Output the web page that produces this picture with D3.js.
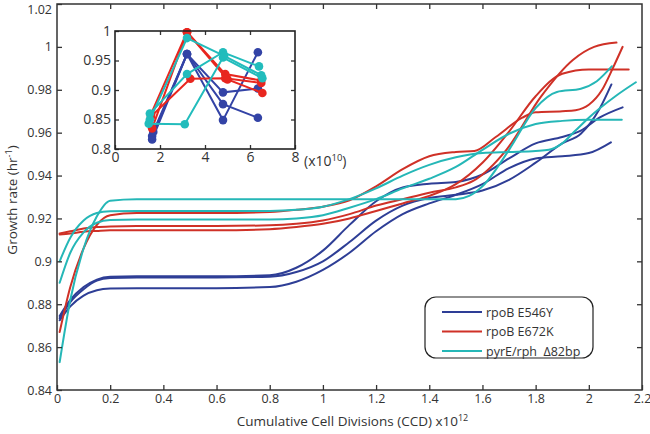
<!DOCTYPE html>
<html><head><meta charset="utf-8">
<script src="https://cdn.jsdelivr.net/npm/d3@7"></script>
<style>
html,body{margin:0;padding:0;background:#fff;}
svg text{font-family:"Open Sans","Noto Sans",sans-serif;fill:#333;}
</style></head>
<body><svg id="c" width="650" height="434"></svg>
<script>
// ---------- data ----------
const xTicks = [0,0.2,0.4,0.6,0.8,1,1.2,1.4,1.6,1.8,2,2.2];
const yTicks = [0.84,0.86,0.88,0.9,0.92,0.94,0.96,0.98,1,1.02];
const seriesNames = ["rpoB E546Y","rpoB E672K","pyrE/rph  \u039482bp"];
const seriesColors = ["#2e3e96","#cf3127","#25b7b7"];
const insetColors = ["#3343a6","#e8261f","#22bcbc"];

// main curves: [CCD x10^12, growth rate]
const blue1 = [[0.01,.8745],[0.05,.882],[0.1,.888],[0.15,.8915],[0.2,.8928],[0.3,.893],[0.6,.893],[0.8,.8935],[0.9,.897],[1.0,.905],[1.1,.917],[1.2,.928],[1.3,.9345],[1.4,.9362],[1.5,.937],[1.6,.9405],[1.7,.948],[1.8,.955],[1.9,.958],[1.97,.961],[2.04,.967],[2.127,.9718]];
const blue2 = [[0.01,.8735],[0.05,.881],[0.1,.887],[0.15,.891],[0.2,.8922],[0.3,.8925],[0.6,.8925],[0.8,.8928],[0.9,.895],[1.0,.9],[1.1,.909],[1.2,.919],[1.3,.926],[1.4,.9295],[1.5,.931],[1.6,.933],[1.7,.938],[1.8,.946],[1.9,.955],[1.97,.9595],[2.04,.971],[2.085,.9825]];
const blue3 = [[0.01,.8725],[0.05,.879],[0.1,.884],[0.15,.8865],[0.2,.8873],[0.3,.8875],[0.6,.8875],[0.8,.888],[0.9,.8905],[1.0,.896],[1.1,.904],[1.2,.914],[1.3,.922],[1.4,.927],[1.5,.931],[1.6,.936],[1.7,.9435],[1.8,.948],[1.9,.949],[2.0,.9505],[2.083,.9555]];
const red1 = [[0.01,.913],[0.05,.914],[0.1,.9153],[0.15,.916],[0.2,.9163],[0.3,.9165],[0.6,.9165],[0.8,.9168],[0.9,.9175],[1.0,.919],[1.1,.922],[1.2,.926],[1.3,.929],[1.4,.932],[1.5,.9345],[1.565,.9375],[1.69,.952],[1.82,.9768],[1.94,.9939],[2.02,1.0],[2.104,1.002]];
const red2 = [[0.01,.9125],[0.05,.913],[0.1,.9138],[0.15,.9142],[0.2,.9145],[0.3,.9145],[0.6,.9145],[0.8,.915],[0.9,.916],[1.0,.9175],[1.1,.92],[1.2,.9235],[1.3,.927],[1.4,.9305],[1.5,.936],[1.6,.946],[1.7,.9605],[1.8,.977],[1.9,.9875],[2.0,.9895],[2.15,.9895]];
const red3 = [[0.01,.867],[0.05,.888],[0.1,.906],[0.15,.917],[0.2,.9215],[0.3,.9225],[0.6,.9225],[0.8,.923],[0.9,.924],[1.0,.9255],[1.1,.9285],[1.2,.935],[1.3,.943],[1.4,.949],[1.5,.951],[1.57,.9515],[1.65,.958],[1.75,.967],[1.8,.9695],[1.9,.97],[1.95,.9705],[2.0,.973],[2.05,.98],[2.09,.99],[2.127,1.0]];
const cyan1 = [[0.01,.853],[0.05,.882],[0.1,.906],[0.15,.921],[0.2,.9283],[0.3,.929],[0.8,.929],[1.2,.929],[1.5,.929],[1.55,.9305],[1.6,.935],[1.7,.952],[1.8,.9715],[1.88,.979],[1.97,.9805],[2.03,.984],[2.087,.991]];
const cyan2 = [[0.01,.9],[0.05,.911],[0.1,.919],[0.15,.9225],[0.2,.9233],[0.3,.9235],[0.8,.9235],[0.9,.924],[1.0,.9255],[1.1,.929],[1.2,.934],[1.3,.94],[1.4,.945],[1.5,.9485],[1.6,.9505],[1.7,.951],[1.8,.9515],[1.85,.952],[1.9,.955],[1.95,.961],[2.0,.967],[2.1,.977],[2.177,.9835]];
const cyan3 = [[0.01,.89],[0.05,.904],[0.1,.9135],[0.15,.918],[0.2,.9193],[0.3,.9195],[0.8,.9195],[0.9,.92],[1.0,.9215],[1.1,.925],[1.2,.929],[1.3,.934],[1.4,.9385],[1.5,.944],[1.6,.952],[1.7,.9595],[1.8,.964],[1.9,.9655],[2.0,.966],[2.124,.966]];

// inset: [CCD x10^10, growth rate]
const insetBlue1 = [[1.65,.816],[3.2,.961],[4.8,.849],[6.35,.964]];
const insetBlue2 = [[1.65,.822],[3.2,.961],[4.8,.876],[6.35,.853]];
const insetBlue3 = [[1.7,.829],[3.2,.961],[4.8,.896],[6.35,.9025]];
const insetRed1 = [[1.6,.859],[3.2,.998],[4.9,.927],[6.5,.916]];
const insetRed2 = [[1.65,.835],[3.2,.998],[5.0,.918],[6.55,.895]];
const insetRed3 = [[1.6,.855],[3.35,.919],[4.9,.92],[6.5,.912]];
const insetCyan1 = [[1.5,.843],[3.1,.842],[4.8,.955],[6.55,.92]];
const insetCyan2 = [[1.55,.86],[3.2,.927],[4.8,.964],[6.4,.94]];
const insetCyan3 = [[1.55,.85],[3.2,.988],[4.85,.958],[6.5,.925]];
const insetXTicks = [0,2,4,6,8];
const insetYTicks = [0.8,0.85,0.9,0.95,1];

const mainGroups = [[blue1,blue2,blue3],[red1,red2,red3],[cyan1,cyan2,cyan3]];
const insetGroups = [[insetBlue1,insetBlue2,insetBlue3],[insetRed1,insetRed2,insetRed3],[insetCyan1,insetCyan2,insetCyan3]];

// ---------- drawing ----------
const svg = d3.select("#c");
const L=57, R=642, T=4, B=390;
const x = d3.scaleLinear().domain([0,2.2]).range([L,R]);
const y = d3.scaleLinear().domain([0.84,1.02]).range([B,T]);
const axisColor = "#333";

const line = d3.line().x(d=>x(d[0])).y(d=>y(d[1])).curve(d3.curveMonotoneX);
mainGroups.forEach((g,i)=>{
  g.forEach(s=>{
    svg.append("path").attr("d",line(s)).attr("fill","none")
      .attr("stroke",seriesColors[i]).attr("stroke-width",2).attr("stroke-linecap","round");
  });
});

function styleAxis(g){
  g.select(".domain").remove();
  g.selectAll("line").attr("stroke",axisColor).attr("stroke-width",1.3);
  g.selectAll("text").attr("fill","#333").style("font-size","12.5px").style("font-family",'"Open Sans","Noto Sans",sans-serif');
}
const fmt = d=>String(+d.toFixed(2));
svg.append("g").attr("transform",`translate(0,${B})`)
  .call(d3.axisBottom(x).tickValues(xTicks).tickFormat(fmt).tickSizeInner(-5).tickSizeOuter(0).tickPadding(4))
  .call(styleAxis);
svg.append("g").attr("transform",`translate(0,${T})`)
  .call(d3.axisTop(x).tickValues(xTicks.slice(1,-1)).tickFormat("").tickSizeInner(-5).tickSizeOuter(0))
  .call(styleAxis);
const yAxisG = svg.append("g").attr("transform",`translate(${L},0)`)
  .call(d3.axisLeft(y).tickValues(yTicks).tickFormat(fmt).tickSizeInner(-5).tickSizeOuter(0).tickPadding(5))
  .call(styleAxis);
// keep the top label inside the picture
yAxisG.selectAll(".tick text").filter(d=>Math.abs(d-1.02)<1e-9).attr("dy","0.75em");
svg.append("g").attr("transform",`translate(${R},0)`)
  .call(d3.axisRight(y).tickValues(yTicks.slice(1,-1)).tickFormat("").tickSizeInner(-5).tickSizeOuter(0))
  .call(styleAxis);
svg.append("rect").attr("x",L).attr("y",T).attr("width",R-L).attr("height",B-T)
  .attr("fill","none").attr("stroke",axisColor).attr("stroke-width",1.5);

// axis titles
const xt = svg.append("text").attr("x",(L+R)/2+3).attr("y",426).attr("text-anchor","middle").style("font-size","13.5px");
xt.append("tspan").text("Cumulative Cell Divisions (CCD) x10");
xt.append("tspan").attr("dy",-5).style("font-size","9px").text("12");
const yt = svg.append("text").attr("transform","translate(17,200) rotate(-90)").attr("text-anchor","middle").style("font-size","13.5px");
yt.append("tspan").text("Growth rate (hr");
yt.append("tspan").attr("dy",-5).style("font-size","9px").text("-1");
yt.append("tspan").attr("dy",5).text(")");

// legend
const lg = svg.append("g");
lg.append("rect").attr("x",425).attr("y",297).attr("width",168).attr("height",61).attr("rx",11)
  .attr("fill","#fff").attr("stroke","#222").attr("stroke-width",1.2);
seriesNames.forEach((n,i)=>{
  const yy = 312 + i*19.5;
  lg.append("line").attr("x1",442).attr("x2",482).attr("y1",yy).attr("y2",yy)
    .attr("stroke",seriesColors[i]).attr("stroke-width",2);
  lg.append("text").attr("x",486).attr("y",yy+4.5).style("font-size","12.5px").attr("xml:space","preserve").text(n);
});

// inset
const IL=115, IR=295, IT=31, IB=149;
const xi = d3.scaleLinear().domain([0,8]).range([IL,IR]);
const yi = d3.scaleLinear().domain([0.8,1]).range([IB,IT]);
const ig = svg.append("g");
ig.append("rect").attr("x",IL).attr("y",IT).attr("width",IR-IL).attr("height",IB-IT).attr("fill","#fff");
ig.append("g").attr("transform",`translate(0,${IB})`)
  .call(d3.axisBottom(xi).tickValues(insetXTicks).tickSizeInner(-4).tickSizeOuter(0).tickPadding(3))
  .call(styleAxis).selectAll("text").style("font-size","14px");
ig.append("g").attr("transform",`translate(0,${IT})`)
  .call(d3.axisTop(xi).tickValues(insetXTicks.slice(1,-1)).tickFormat("").tickSizeInner(-4).tickSizeOuter(0)).call(styleAxis);
ig.append("g").attr("transform",`translate(${IL},0)`)
  .call(d3.axisLeft(yi).tickValues(insetYTicks).tickFormat(d=>String(+d.toFixed(2))).tickSizeInner(-4).tickSizeOuter(0).tickPadding(4))
  .call(styleAxis).selectAll("text").style("font-size","14px");
ig.append("g").attr("transform",`translate(${IR},0)`)
  .call(d3.axisRight(yi).tickValues(insetYTicks.slice(1,-1)).tickFormat("").tickSizeInner(-4).tickSizeOuter(0)).call(styleAxis);
const iline = d3.line().x(d=>xi(d[0])).y(d=>yi(d[1]));
insetGroups.forEach((g,i)=>{
  g.forEach(s=>{
    ig.append("path").attr("d",iline(s)).attr("fill","none").attr("stroke",insetColors[i]).attr("stroke-width",2);
    ig.selectAll(null).data(s).enter().append("circle")
      .attr("cx",d=>xi(d[0])).attr("cy",d=>yi(d[1])).attr("r",4.3).attr("fill",insetColors[i]);
  });
});
ig.append("rect").attr("x",IL).attr("y",IT).attr("width",IR-IL).attr("height",IB-IT)
  .attr("fill","none").attr("stroke","#222").attr("stroke-width",1.6);
const ex = ig.append("text").attr("x",IR+9).attr("y",IB+17).style("font-size","14px");
ex.append("tspan").text("(x10");
ex.append("tspan").attr("dy",-5).style("font-size","9.5px").text("10");
ex.append("tspan").attr("dy",5).text(")");
</script></body></html>
